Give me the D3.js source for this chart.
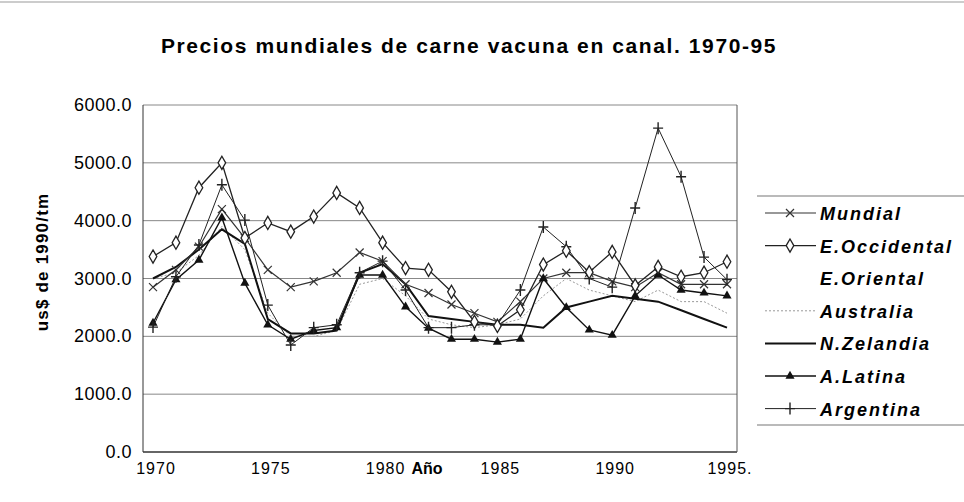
<!DOCTYPE html>
<html>
<head>
<meta charset="utf-8">
<script src="https://cdn.jsdelivr.net/npm/d3@7"></script>
<style>
  body { margin: 0; background: #fff; }
  svg { font-family: "Liberation Sans", Arial, sans-serif; }
</style>
</head>
<body>
<svg width="964" height="502"></svg>
<script>
var years = d3.range(1970, 1996);
var yTicks = [0, 1000, 2000, 3000, 4000, 5000, 6000];
var xTicks = [1970, 1975, 1980, 1985, 1990, 1995];

var mundial     = [2850, 3150, 3550, 4200, 3700, 3150, 2850, 2950, 3100, 3450, 3300, 2900, 2750, 2550, 2400, 2250, 2600, 3000, 3100, 3100, 2950, 2850, 3100, 2900, 2900, 2900];
var eOccidental = [3380, 3620, 4570, 5000, 3700, 3960, 3810, 4070, 4480, 4220, 3620, 3180, 3150, 2770, 2250, 2180, 2460, 3240, 3480, 3110, 3460, 2880, 3200, 3030, 3100, 3290];
var eOriental   = [];
var australia   = [3000, 3100, 3400, 3900, 3500, 2400, 2000, 2000, 2100, 2900, 3000, 2700, 2300, 2200, 2150, 2200, 2300, 2700, 3000, 2800, 2700, 2600, 2800, 2600, 2600, 2400];
var nZelandia   = [3000, 3200, 3500, 3850, 3600, 2300, 2050, 2050, 2100, 3100, 3250, 2900, 2350, 2300, 2250, 2200, 2200, 2150, 2500, 2600, 2700, 2650, 2600, 2450, 2300, 2150];
var aLatina     = [2230, 2980, 3320, 4050, 2920, 2200, 1950, 2100, 2150, 3060, 3060, 2510, 2140, 1950, 1950, 1900, 1950, 3000, 2500, 2110, 2020, 2700, 3060, 2800, 2750, 2700];
var argentina   = [2160, 3030, 3580, 4620, 4010, 2540, 1850, 2150, 2200, 3100, 3300, 2800, 2150, 2150, 2200, 2200, 2800, 3890, 3550, 3000, 2850, 4220, 5600, 4760, 3370, 2980];

var series = [
  {name: "Mundial", values: mundial, stroke: "#333", width: 1.2, dash: null, marker: "x"},
  {name: "E.Occidental", values: eOccidental, stroke: "#222", width: 1.3, dash: null, marker: "diamond"},
  {name: "E.Oriental", values: eOriental, stroke: "none", width: 0, dash: null, marker: null},
  {name: "Australia", values: australia, stroke: "#999", width: 1, dash: "2,2", marker: null},
  {name: "N.Zelandia", values: nZelandia, stroke: "#111", width: 2, dash: null, marker: null},
  {name: "A.Latina", values: aLatina, stroke: "#111", width: 1.4, dash: null, marker: "triangle"},
  {name: "Argentina", values: argentina, stroke: "#222", width: 1, dash: null, marker: "plus"}
];

var svg = d3.select("svg");

var x = d3.scaleLinear().domain([1970, 1995]).range([153, 727]);
var y = d3.scaleLinear().domain([0, 6000]).range([452, 105]);

// top rule
svg.append("line")
    .attr("x1", 0).attr("x2", 964).attr("y1", 2).attr("y2", 2)
    .attr("stroke", "#999").attr("stroke-width", 1.2);

svg.append("text")
    .attr("x", 469).attr("y", 53)
    .attr("text-anchor", "middle")
    .style("font-weight", "bold").style("font-size", "21px")
    .style("letter-spacing", "1.6px")
    .text("Precios mundiales de carne vacuna en canal. 1970-95");

// grid
svg.selectAll(".grid")
  .data(yTicks)
  .enter().append("line")
    .attr("x1", 143).attr("x2", 737)
    .attr("y1", function(d) { return y(d); })
    .attr("y2", function(d) { return y(d); })
    .attr("stroke", function(d) { return d === 0 ? "#333" : "#888"; })
    .attr("stroke-width", function(d) { return d === 0 ? 1.5 : 1; });

// frame
svg.append("line").attr("x1", 143).attr("x2", 143).attr("y1", y(6000)).attr("y2", y(0)).attr("stroke", "#333");
svg.append("line").attr("x1", 737).attr("x2", 737).attr("y1", y(6000)).attr("y2", y(0)).attr("stroke", "#555");

// y labels
svg.selectAll(".ylab")
  .data(yTicks)
  .enter().append("text")
    .attr("x", 132)
    .attr("y", function(d) { return y(d) + 6; })
    .attr("text-anchor", "end")
    .style("font-size", "18px")
    .style("letter-spacing", "0.5px")
    .text(function(d) { return d.toFixed(1); });

svg.append("text")
    .attr("transform", "translate(48,262) rotate(-90)")
    .attr("text-anchor", "middle")
    .style("font-weight", "bold").style("font-size", "17px")
    .style("letter-spacing", "1.2px")
    .text("us$ de 1990/tm");

// x labels
svg.selectAll(".xlab")
  .data(xTicks)
  .enter().append("text")
    .attr("x", function(d) { return x(d) + 3; })
    .attr("y", 474)
    .attr("text-anchor", "middle")
    .style("font-size", "16px")
    .style("letter-spacing", "1px")
    .text(function(d) { return d === 1995 ? d + "." : d; });

svg.append("text")
    .attr("x", 427).attr("y", 474)
    .attr("text-anchor", "middle")
    .style("font-weight", "bold").style("font-size", "16px")
    .text("Año");

var line = d3.line()
    .x(function(d) { return x(d.year); })
    .y(function(d) { return y(d.value); });

function drawMarker(sel, type, stroke) {
  if (type === "diamond") {
    sel.append("path").attr("d", d3.symbol(d3.symbolDiamond, 50)())
      .attr("fill", "#fff").attr("stroke", stroke).attr("stroke-width", 1.3);
  } else if (type === "triangle") {
    sel.append("path").attr("d", d3.symbol(d3.symbolTriangle, 36)())
      .attr("fill", "#111");
  } else if (type === "plus") {
    sel.append("path").attr("d", "M-5,0H5M0,-6V6")
      .attr("stroke", stroke).attr("stroke-width", 1.4);
  } else if (type === "x") {
    sel.append("path").attr("d", "M-4,-4L4,4M-4,4L4,-4")
      .attr("stroke", stroke).attr("stroke-width", 1.2);
  }
}

var order = [3, 4, 0, 5, 6, 1];
order.forEach(function(i) {
  var s = series[i];
  var pts = s.values.map(function(v, j) { return {year: years[j], value: v}; });
  if (!pts.length) return;
  svg.append("path")
      .datum(pts)
      .attr("fill", "none")
      .attr("stroke", s.stroke)
      .attr("stroke-width", s.width)
      .attr("stroke-dasharray", s.dash)
      .attr("d", line);
  if (s.marker) {
    svg.selectAll(".m" + i)
      .data(pts)
      .enter().append("g")
        .attr("transform", function(d) { return "translate(" + x(d.year) + "," + y(d.value) + ")"; })
        .each(function() { drawMarker(d3.select(this), s.marker, s.stroke); });
  }
});

// legend
svg.append("line").attr("x1", 757).attr("x2", 964).attr("y1", 196).attr("y2", 196)
    .attr("stroke", "#777").attr("stroke-width", 1.2);
svg.append("line").attr("x1", 757).attr("x2", 964).attr("y1", 425).attr("y2", 425)
    .attr("stroke", "#777").attr("stroke-width", 1.2);

var leg = svg.selectAll(".leg")
  .data(series)
  .enter().append("g")
    .attr("transform", function(d, i) { return "translate(0," + (213 + i * 32.6) + ")"; });

leg.append("line")
    .attr("x1", 765).attr("x2", 816).attr("y1", 0).attr("y2", 0)
    .attr("stroke", function(d) { return d.stroke; })
    .attr("stroke-width", function(d) { return d.width; })
    .attr("stroke-dasharray", function(d) { return d.dash; });

leg.each(function(d) {
  if (d.marker) {
    var g = d3.select(this).append("g").attr("transform", "translate(790,0)");
    drawMarker(g, d.marker, d.stroke);
  }
});

leg.append("text")
    .attr("x", 820).attr("y", 7)
    .style("font-weight", "bold").style("font-style", "italic").style("font-size", "18px")
    .style("letter-spacing", "2px")
    .text(function(d) { return d.name; });
</script>
</body>
</html>
